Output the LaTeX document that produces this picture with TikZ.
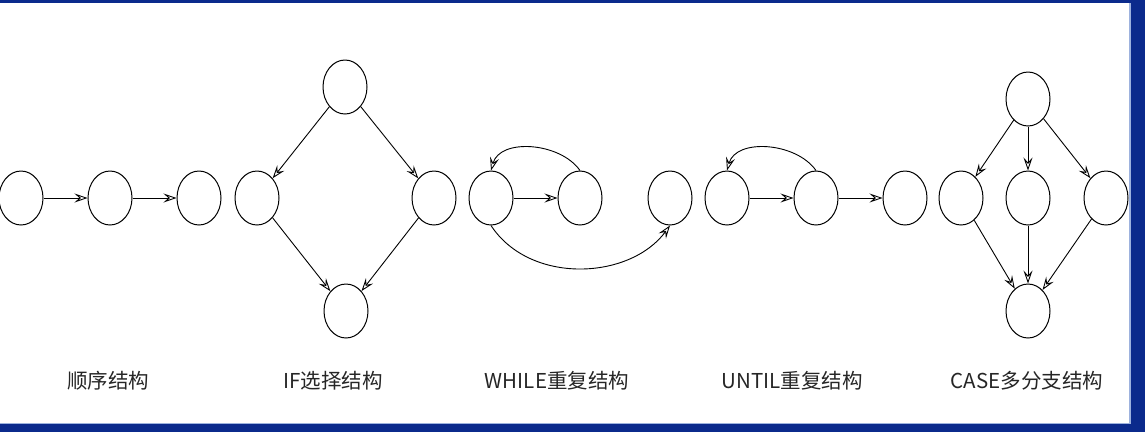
\documentclass[tikz,border=0pt]{standalone}
\usepackage{fontspec}
\setmainfont{Noto Sans CJK SC}
\usetikzlibrary{arrows.meta,shapes.geometric}

\begin{document}
\begin{tikzpicture}[x=1pt, y=-1pt, >={Stealth[open, length=13pt, width=9pt, inset=5pt]},
    blob/.style={draw, ellipse, line width=1pt, minimum width=44pt, minimum height=54pt, inner sep=0pt},
    flow/.style={->, line width=0.9pt},
    caption/.style={font=\fontsize{20.5}{24}\selectfont, text=black!85}]
  \definecolor{frame}{HTML}{0B2A8C}
  \definecolor{frameedge}{HTML}{9DB2DE}
  \useasboundingbox (0,0) rectangle (1145,432);
  \fill[white] (0,0) rectangle (1145,432);
  \fill[frame] (0,0) rectangle (1145,3);
  \fill[frame] (1129,0) rectangle (1145,432);
  \fill[frame] (0,424) rectangle (1145,432);
  \fill[frameedge] (1129,3) rectangle (1130.5,424);
  \fill[frameedge] (0,422.5) rectangle (1130.5,424);

  % sequence
  \node[blob] (s1) at (21,198) {};
  \node[blob] (s2) at (110,198) {};
  \node[blob] (s3) at (199,198) {};
  \draw[flow] (s1) -- (s2);
  \draw[flow] (s2) -- (s3);

  % if
  \node[blob] (i1) at (345,87) {};
  \node[blob] (i2) at (257,198) {};
  \node[blob] (i3) at (434,198) {};
  \node[blob] (i4) at (346,311) {};
  \draw[flow] (i1) -- (i2);
  \draw[flow] (i1) -- (i3);
  \draw[flow] (i2) -- (i4);
  \draw[flow] (i3) -- (i4);

  % while
  \node[blob] (w1) at (491,198) {};
  \node[blob] (w2) at (580,198) {};
  \node[blob] (w3) at (670,198) {};
  \draw[flow] (w1) -- (w2);
  \draw[flow] (w2.north) .. controls (560,142) and (500,138) .. (w1.north);
  \draw[flow] (w1.south) .. controls (530,285) and (630,280) .. (w3.south);

  % until
  \node[blob] (u1) at (727,198) {};
  \node[blob] (u2) at (816,198) {};
  \node[blob] (u3) at (905,198) {};
  \draw[flow] (u1) -- (u2);
  \draw[flow] (u2) -- (u3);
  \draw[flow] (u2.north) .. controls (796,142) and (736,138) .. (u1.north);

  % case
  \node[blob] (c1) at (1028,99) {};
  \node[blob] (c2) at (961,198) {};
  \node[blob] (c3) at (1028,198) {};
  \node[blob] (c4) at (1106,198) {};
  \node[blob] (c5) at (1028,311) {};
  \foreach \k in {c2,c3,c4} {
    \draw[flow] (c1) -- (\k);
    \draw[flow] (\k) -- (c5);
  }

  \node[caption] (t1) at (108,381) {顺序结构};
  \node[caption] (t2) at (333,381) {IF选择结构};
  \node[caption] (t3) at (557,381) {WHILE重复结构};
  \node[caption] (t4) at (792,381) {UNTIL重复结构};
  \node[caption] (t5) at (1027,381) {CASE多分支结构};
\end{tikzpicture}
\end{document}
